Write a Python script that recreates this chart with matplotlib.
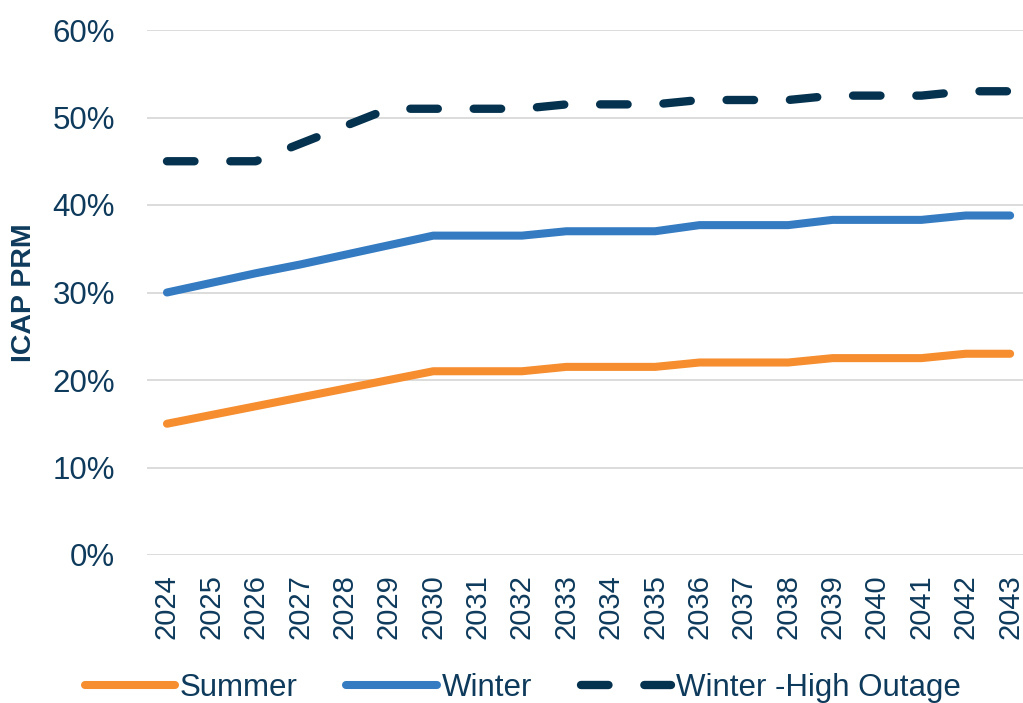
import matplotlib
matplotlib.use("Agg")
import matplotlib.pyplot as plt
from matplotlib.ticker import FuncFormatter

plt.rcParams['font.family'] = ['Liberation Sans', 'DejaVu Sans']

years = list(range(2024, 2044))
summer = [15.0, 16.0, 17.0, 18.0, 19.0, 20.0, 21.0, 21.0, 21.0, 21.5,
          21.5, 21.5, 22.0, 22.0, 22.0, 22.5, 22.5, 22.5, 23.0, 23.0]
winter = [30.0, 31.1, 32.2, 33.2, 34.3, 35.4, 36.5, 36.5, 36.5, 37.0,
          37.0, 37.0, 37.7, 37.7, 37.7, 38.3, 38.3, 38.3, 38.8, 38.8]
winter_high = [45.0, 45.0, 45.0, 47.0, 49.0, 51.0, 51.0, 51.0, 51.0, 51.5,
               51.5, 51.5, 52.0, 52.0, 52.0, 52.5, 52.5, 52.5, 53.0, 53.0]
y_ticks = [0, 10, 20, 30, 40, 50, 60]

text_color = '#0e3a5c'
c_summer = '#f68d2e'
c_winter = '#347bc2'
c_high = '#05324f'

fig = plt.figure(figsize=(10.23, 7.03), dpi=100)
ax = fig.add_axes([147 / 1023, 148 / 703, 876 / 1023, 525 / 703])

lw = 5.8
ax.plot(years, summer, color=c_summer, lw=lw, solid_capstyle='round',
        solid_joinstyle='round', label='Summer', zorder=3)
ax.plot(years, winter, color=c_winter, lw=lw, solid_capstyle='round',
        solid_joinstyle='round', label='Winter', zorder=3)
ax.plot(years, winter_high, color=c_high, lw=6.0, dash_capstyle='round',
        linestyle=(0, (3.3, 4.3)), label='Winter -High Outage', zorder=3)

ax.set_xlim(2023.55, 2043.29)
ax.set_ylim(0, 60)
ax.set_yticks(y_ticks)
ax.yaxis.set_major_formatter(FuncFormatter(lambda v, p: f"{v:.0f}%"))
ax.set_xticks(years)
ax.set_xticklabels([str(y) for y in years], rotation=90)

ax.grid(axis='y', color='#d9d9d9', lw=1.3)
ax.set_axisbelow(True)
for s in ax.spines.values():
    s.set_visible(False)
ax.tick_params(axis='both', length=0, colors=text_color)
ax.tick_params(axis='y', pad=23, labelsize=22.5)
ax.tick_params(axis='x', pad=14, labelsize=21)

ax.set_ylabel('ICAP PRM', fontsize=20.5, fontweight='bold', color=text_color)
ax.yaxis.set_label_coords(-0.125, 0.5)

leg = fig.legend(loc='center', bbox_to_anchor=(0.511, 0.021), ncol=3,
                 frameon=False, fontsize=22.5, handlelength=2.9,
                 handletextpad=0.15, columnspacing=1.55)
for t in leg.get_texts():
    t.set_color(text_color)

fig.savefig('out.png', dpi=100)
